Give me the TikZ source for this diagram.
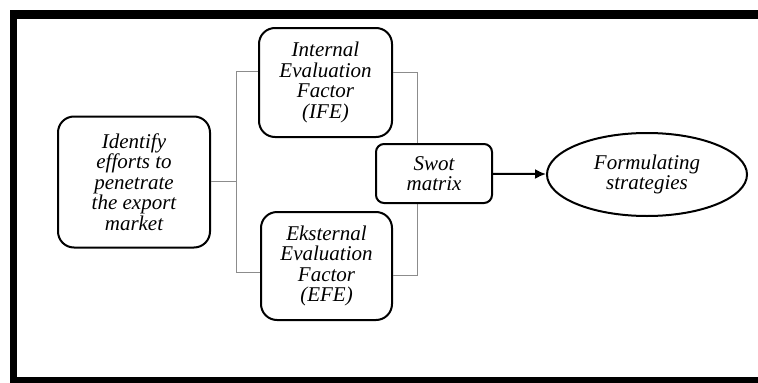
\documentclass[tikz,border=0pt]{standalone}
\usepackage{fontspec}
\setmainfont{Liberation Serif}[ItalicFont={Liberation Serif Italic}]
\usetikzlibrary{shapes,arrows.meta}

\begin{document}
\begin{tikzpicture}[x=1pt,y=-1pt]
      \tikzset{stage/.style={draw=black,
          line width=2pt,
          rounded corners=#1,
          align=center,
          inner sep=0pt,
          font=\itshape\fontsize{21}{20.5}\selectfont},
        link/.style={draw=black!45,line width=1pt}
      }
      \useasboundingbox (0,0) rectangle (758,383);
      \fill[black] (10,10) rectangle (17,383);
      \fill[black] (10,10) rectangle (758,19);
      \fill[black] (10,377) rectangle (758,383);
      \node [stage=16pt,minimum width=152pt,minimum height=131pt] (ID) at (134,182) {Identify\\efforts to\\penetrate\\the export\\market};
      \node [stage=16pt,minimum width=133pt,minimum height=109pt] (IFE) at (325.5,82.5) {Internal\\Evaluation\\Factor\\(IFE)};
      \node [stage=16pt,minimum width=131pt,minimum height=108pt] (EFE) at (326.5,266) {Eksternal\\Evaluation\\Factor\\(EFE)};
      \coordinate (L) at (236,181);
      \coordinate (R) at (417,72);
      \draw [link] (ID.east|-L)--(L);
      \draw [link] (IFE.west|-0,71)--(236,71)--(236,272)--(EFE.west|-0,272);
      \draw [link] (IFE.east|-R)--(R)--(417,275)--(EFE.east|-0,275);
      \node [stage=8pt,fill=white,minimum width=116pt,minimum height=59pt] (SW) at (434,173.5) {Swot\\matrix};
      \node [draw=black,line width=2pt,ellipse,minimum width=200pt,minimum height=83pt,inner sep=0pt,align=center,
        font=\itshape\fontsize{21}{20.5}\selectfont] (FS) at (647,174.5) {Formulating\\strategies};
      \draw [line width=2pt,-{Latex[length=11pt,width=10pt]}] (SW)--(FS);
    \end{tikzpicture}
\end{document}
